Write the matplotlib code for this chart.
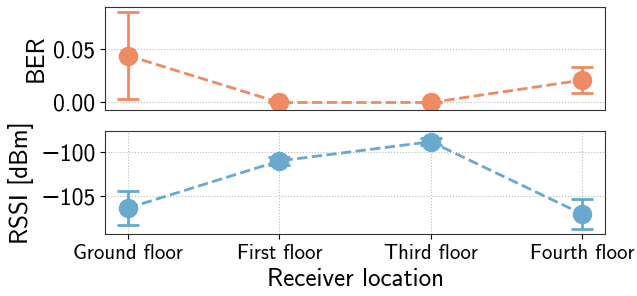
import matplotlib
matplotlib.use("Agg")
from matplotlib import pyplot as plt

locations = ["Ground floor", "First floor", "Third floor", "Fourth floor"]
ber_mean = [0.044, 0.0, 0.0, 0.021]
ber_err = [0.041, 0.0, 0.0, 0.012]
rssi_mean = [-106.4, -101.0, -98.8, -107.1]
rssi_err = [1.9, 0.5, 0.4, 1.7]

# cmss10 has no minus sign, so let DejaVu fill it in
plt.rcParams["font.family"] = ["cmss10", "DejaVu Sans"]
plt.rcParams["axes.unicode_minus"] = True

orange = "#ef8a62"
blue = "#67a9cf"

fig, (ax1, ax2) = plt.subplots(2, 1, figsize=(6.37, 2.96), dpi=100, sharex=True)
fig.subplots_adjust(left=0.165, right=0.95, top=0.976, bottom=0.21, hspace=0.2)

x = list(range(len(locations)))
ax1.errorbar(x, ber_mean, yerr=ber_err, color=orange, marker="o", markersize=13,
             linestyle="--", linewidth=2, capsize=8, elinewidth=2, capthick=2)
ax2.errorbar(x, rssi_mean, yerr=rssi_err, color=blue, marker="o", markersize=13,
             linestyle="--", linewidth=2, capsize=8, elinewidth=2, capthick=2)

ax1.set_ylim(-0.0072, 0.0895)
ax1.set_yticks([0.0, 0.05])
ax1.set_yticklabels(["0.00", "0.05"])
ax2.set_ylim(-109.35, -97.55)
ax2.set_yticks([-105, -100])
ax2.set_yticklabels(["\u2212105", "\u2212100"])
ax2.set_xlim(-0.15, 3.15)
ax2.set_xticks(x)
ax2.set_xticklabels(locations)

ax1.set_ylabel("BER", fontsize=18)
ax2.set_ylabel("RSSI [dBm]", fontsize=18)
ax2.set_xlabel("Receiver location", fontsize=18)

ax1.grid(axis="y", linestyle=":", color="#bbbbbb")
ax2.grid(linestyle=":", color="#bbbbbb")
ax1.tick_params(axis="x", bottom=False)
for ax in (ax1, ax2):
    ax.tick_params(axis="y", labelsize=17)
    for s in ax.spines.values():
        s.set_color("#333333")
ax2.tick_params(axis="x", labelsize=15)

fig.savefig("out.png", dpi=100)
